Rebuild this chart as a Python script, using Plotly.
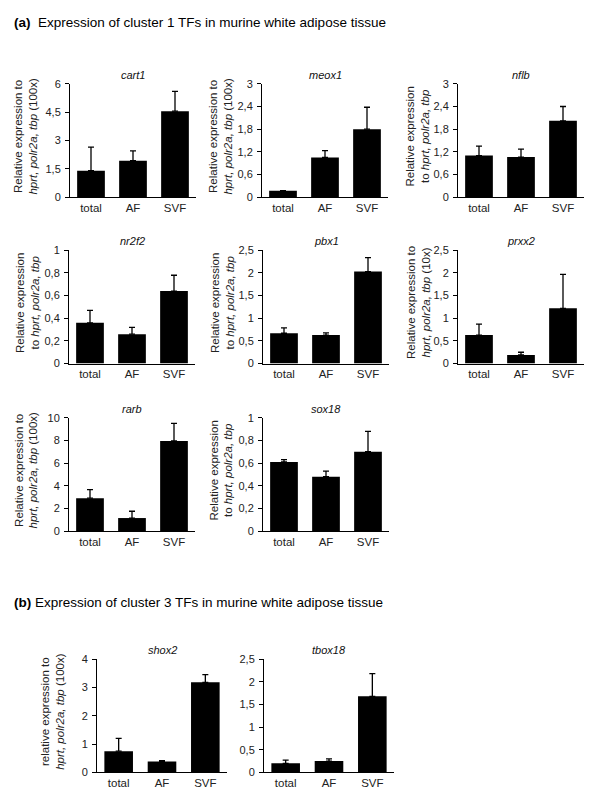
import plotly.graph_objects as go

W, H = 600, 807
FONT = "Liberation Sans, Arial, sans-serif"

categories = ["total", "AF", "SVF"]

genes = ["cart1", "meox1", "nflb", "nr2f2", "pbx1", "prxx2", "rarb", "sox18", "shox2", "tbox18"]

cart1_vals = [1.4, 1.93, 4.55]
cart1_err = [1.25, 0.52, 1.05]
meox1_vals = [0.17, 1.05, 1.8]
meox1_err = [0.0, 0.18, 0.58]
nflb_vals = [1.1, 1.06, 2.02]
nflb_err = [0.25, 0.21, 0.38]
nr2f2_vals = [0.36, 0.26, 0.64]
nr2f2_err = [0.11, 0.06, 0.14]
pbx1_vals = [0.67, 0.63, 2.03]
pbx1_err = [0.12, 0.05, 0.31]
prxx2_vals = [0.63, 0.19, 1.22]
prxx2_err = [0.24, 0.06, 0.75]
rarb_vals = [2.9, 1.15, 7.95]
rarb_err = [0.75, 0.6, 1.55]
sox18_vals = [0.61, 0.48, 0.70]
sox18_err = [0.02, 0.05, 0.18]
shox2_vals = [0.75, 0.39, 3.18]
shox2_err = [0.45, 0.03, 0.27]
tbox18_vals = [0.2, 0.25, 1.68]
tbox18_err = [0.07, 0.05, 0.5]

ticks_6 = [0, 1.5, 3, 4.5, 6]
ticks_6_text = ["0", "1,5", "3", "4,5", "6"]
ticks_3 = [0, 0.6, 1.2, 1.8, 2.4, 3]
ticks_3_text = ["0", "0,6", "1,2", "1,8", "2,4", "3"]
ticks_1 = [0, 0.2, 0.4, 0.6, 0.8, 1]
ticks_1_text = ["0", "0,2", "0,4", "0,6", "0,8", "1"]
ticks_25 = [0, 0.5, 1, 1.5, 2, 2.5]
ticks_25_text = ["0", "0,5", "1", "1,5", "2", "2,5"]
ticks_10 = [0, 2, 4, 6, 8, 10]
ticks_10_text = ["0", "2", "4", "6", "8", "10"]
ticks_4 = [0, 1, 2, 3, 4]
ticks_4_text = ["0", "1", "2", "3", "4"]

lab_100x = "Relative expression to<br><i>hprt, polr2a, tbp</i> (100x)"
lab_plain = "Relative expression<br>to <i>hprt, polr2a, tbp</i>"
lab_10x = "Relative expression to<br><i>hprt, polr2a, tbp</i> (10x)"
lab_shox = "relative expression to<br><i>hprt, polr2a, tbp</i> (100x)"

# layout spec per panel: (values, errors, tickvals, ticktext, ylabel,
#   x0_px, x1_px, ytop_px, y0_px, ylabel_x_px)
panels = [
    (cart1_vals, cart1_err, ticks_6, ticks_6_text, lab_100x, 70, 196, 79, 194, 26),
    (meox1_vals, meox1_err, ticks_3, ticks_3_text, lab_100x, 262, 388, 79, 194, 221),
    (nflb_vals, nflb_err, ticks_3, ticks_3_text, lab_plain, 458, 584, 79, 194, 418),
    (nr2f2_vals, nr2f2_err, ticks_1, ticks_1_text, lab_plain, 69, 195, 248, 363, 27),
    (pbx1_vals, pbx1_err, ticks_25, ticks_25_text, lab_plain, 263, 389, 248, 363, 222),
    (prxx2_vals, prxx2_err, ticks_25, ticks_25_text, lab_10x, 458, 584, 248, 363, 418),
    (rarb_vals, rarb_err, ticks_10, ticks_10_text, lab_100x, 69, 195, 418, 533, 26),
    (sox18_vals, sox18_err, ticks_1, ticks_1_text, lab_plain, 263, 389, 418, 533, 221),
    (shox2_vals, shox2_err, ticks_4, ticks_4_text, lab_shox, 97, 227, 663, 778, 53),
    (tbox18_vals, tbox18_err, ticks_25, ticks_25_text, None, 264, 394, 663, 778, None),
]

fig = go.Figure()
annotations = []
layout_axes = {}

for i, (vals, errs, tv, tt, ylab, x0, x1, yt, yb, ylx) in enumerate(panels):
    n = i + 1
    xa = "x" if n == 1 else f"x{n}"
    ya = "y" if n == 1 else f"y{n}"
    fig.add_trace(go.Bar(
        x=categories, y=vals, xaxis=xa, yaxis=ya,
        marker=dict(color="black", line=dict(width=0)),
        width=0.66,
        error_y=dict(type="data", array=errs, arrayminus=[0] * len(errs),
                     symmetric=False, color="black", thickness=1.3, width=3),
        showlegend=False, hoverinfo="skip",
    ))
    xkey = "xaxis" if n == 1 else f"xaxis{n}"
    ykey = "yaxis" if n == 1 else f"yaxis{n}"
    layout_axes[xkey] = dict(
        domain=[x0 / W, x1 / W], anchor=ya, range=[-0.5, 2.5],
        showline=True, linecolor="black", linewidth=1, ticks="",
        showgrid=False, zeroline=False,
        tickfont=dict(family=FONT, size=11.5, color="#222"),
    )
    layout_axes[ykey] = dict(
        domain=[1 - yb / H, 1 - yt / H], anchor=xa, range=[0, tv[-1]],
        tickvals=tv, ticktext=tt, ticks="outside", ticklen=4,
        tickcolor="black", showline=True, linecolor="black", linewidth=1,
        showgrid=False, zeroline=False, ticklabelstandoff=2,
        tickfont=dict(family=FONT, size=11, color="#222"),
    )
    annotations.append(dict(
        text=f"<i>{genes[i]}</i>", x=(x0 + x1) / 2 / W, y=1 - (yt - 9) / H,
        xref="paper", yref="paper", showarrow=False, xanchor="center",
        yanchor="middle", font=dict(family=FONT, size=11, color="#111"),
    ))
    if ylab:
        annotations.append(dict(
            text=ylab, x=ylx / W, y=1 - ((yt + yb) / 2 - 4) / H,
            xref="paper", yref="paper", showarrow=False, textangle=-90,
            xanchor="center", yanchor="middle",
            font=dict(family=FONT, size=11.5, color="#222"),
        ))

annotations.append(dict(
    text="<b>(a)</b>  Expression of cluster 1 TFs in murine white adipose tissue",
    x=12 / W, y=1 - 17 / H, xref="paper", yref="paper", showarrow=False,
    xanchor="left", yanchor="middle", font=dict(family=FONT, size=13.5, color="black"),
))
annotations.append(dict(
    text="<b>(b)</b> Expression of cluster 3 TFs in murine white adipose tissue",
    x=12 / W, y=1 - 605 / H, xref="paper", yref="paper", showarrow=False,
    xanchor="left", yanchor="middle", font=dict(family=FONT, size=13.5, color="black"),
))

fig.update_layout(
    width=W, height=H, margin=dict(l=0, r=0, t=0, b=0),
    paper_bgcolor="white", plot_bgcolor="white",
    annotations=annotations, bargap=0.34, **layout_axes,
)

fig.write_html("out.html", config={"displayModeBar": False},
               post_script="document.body.style.margin='0';")
